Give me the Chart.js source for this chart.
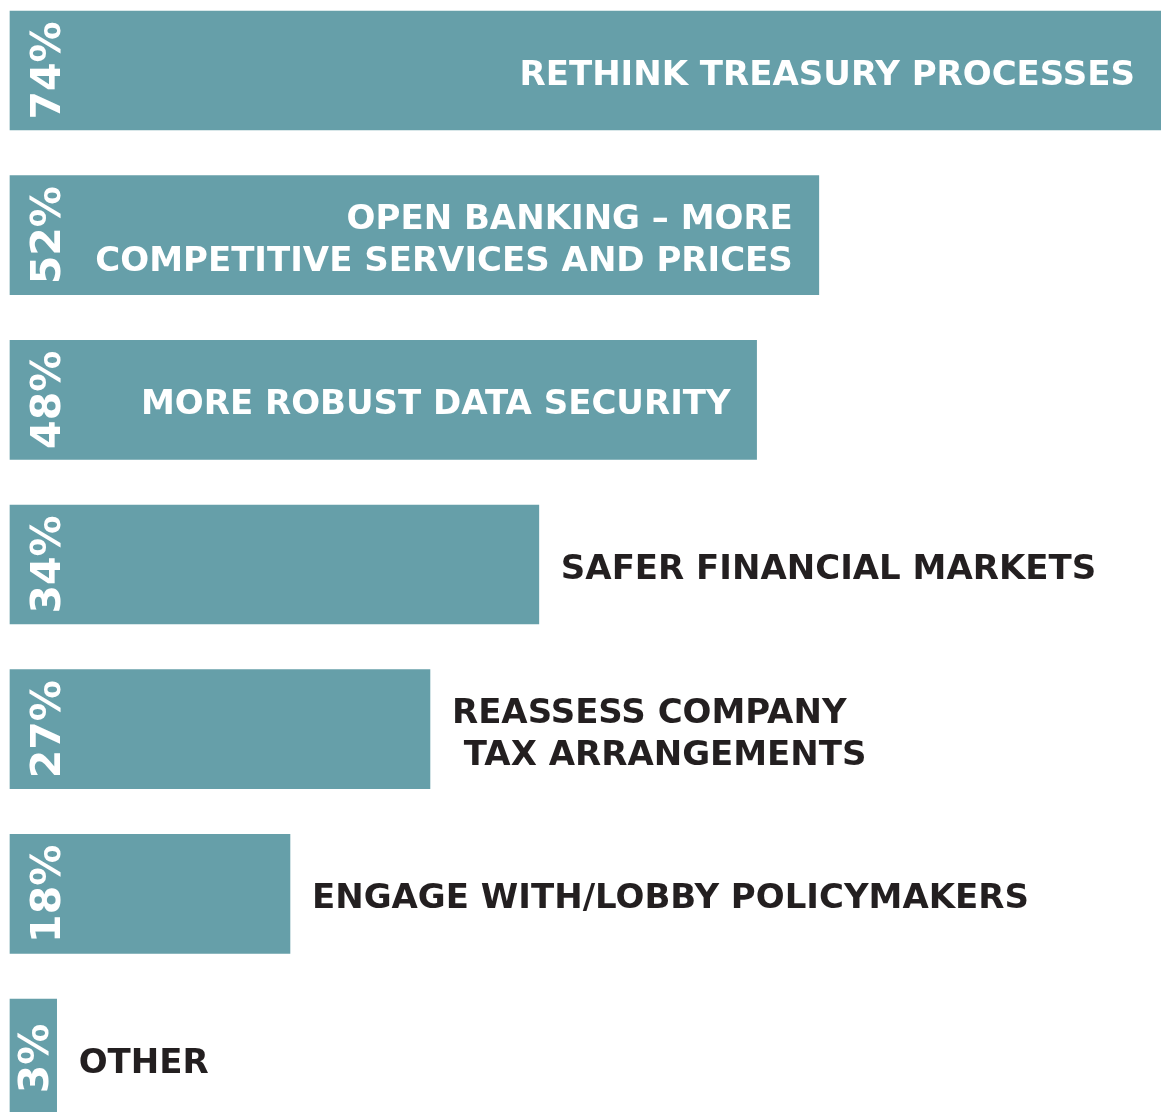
<!DOCTYPE html>
<html>
<head>
<meta charset="utf-8">
<script src="https://cdn.jsdelivr.net/npm/chart.js@4"></script>
<style>
  html, body { margin: 0; padding: 0; background: #ffffff; }
  #wrap { width: 1161px; height: 1112px; position: relative; }
</style>
</head>
<body>
<div id="wrap"><canvas id="c"></canvas></div>
<script>
const categories = [
  ['RETHINK TREASURY PROCESSES'],
  ['OPEN BANKING – MORE', 'COMPETITIVE SERVICES AND PRICES'],
  ['MORE ROBUST DATA SECURITY'],
  ['SAFER FINANCIAL MARKETS'],
  ['REASSESS COMPANY', ' TAX ARRANGEMENTS'],
  ['ENGAGE WITH/LOBBY POLICYMAKERS'],
  ['OTHER']
];
const values = [74, 52, 48, 34, 27, 18, 3];
const valueLabels = ['74%', '52%', '48%', '34%', '27%', '18%', '3%'];

const BAR_COLOR = '#669fa9';
const DARK = '#231f20';
const LABEL_SIZE = 34;
const LABEL_FONT = 'bold ' + LABEL_SIZE + 'px "DejaVu Sans"';
const PCT_SIZE = 41;
const PCT_FONT = 'bold ' + PCT_SIZE + 'px "DejaVu Sans"';

const labelPlugin = {
  id: 'barLabels',
  afterDatasetsDraw(chart) {
    const ctx = chart.ctx;
    const meta = chart.getDatasetMeta(0);
    meta.data.forEach((bar, i) => {
      const { x, y, base } = bar.getProps(['x', 'y', 'base'], true);
      // percent label, rotated
      ctx.save();
      ctx.fillStyle = '#ffffff';
      ctx.font = PCT_FONT;
      const px = Math.min(base + 35.5, (base + x) / 2);
      ctx.translate(px, y);
      ctx.rotate(-Math.PI / 2);
      ctx.textAlign = 'center';
      ctx.textBaseline = 'alphabetic';
      ctx.fillText(valueLabels[i], 0, PCT_SIZE * 0.365);
      ctx.restore();

      // category label
      const lines = categories[i];
      const inside = values[i] >= 40;
      ctx.save();
      ctx.font = LABEL_FONT;
      ctx.fillStyle = inside ? '#ffffff' : DARK;
      ctx.textAlign = inside ? 'right' : 'left';
      ctx.textBaseline = 'alphabetic';
      const tx = inside ? x - 26 : x + 22;
      const lh = 42;
      const startY = y - (lines.length - 1) * lh / 2;
      lines.forEach((ln, k) => {
        ctx.fillText(ln, tx, startY + k * lh + LABEL_SIZE * 0.365 + 2);
      });
      ctx.restore();
    });
  }
};

new Chart(document.getElementById('c'), {
  type: 'bar',
  data: {
    labels: categories.map(c => c.join(' ')),
    datasets: [{
      data: values,
      backgroundColor: BAR_COLOR,
      borderWidth: 0,
      barThickness: 119,
      clip: false
    }]
  },
  options: {
    indexAxis: 'y',
    responsive: true,
    maintainAspectRatio: false,
    animation: false,
    layout: { padding: { left: 10, right: 0, top: 70.5, bottom: 53.5 } },
    plugins: { legend: { display: false }, tooltip: { enabled: false } },
    scales: {
      x: { display: false, min: 0, max: 74 },
      y: { display: false, offset: false, grid: { display: false } }
    }
  },
  plugins: [labelPlugin]
});
</script>
</body>
</html>
